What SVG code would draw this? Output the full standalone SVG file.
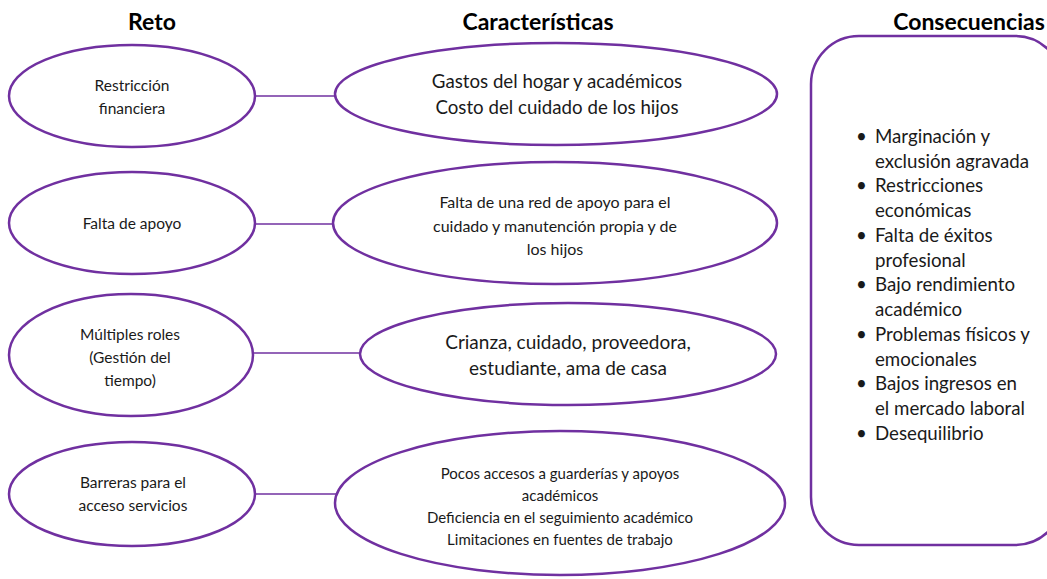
<svg xmlns="http://www.w3.org/2000/svg" width="1047" height="579" viewBox="0 0 1047 579">
<style>
.n{fill:#fff;stroke:#7030A0;stroke-width:2.5}
.c{stroke:#7030A0;stroke-width:1.5;fill:none}
text{font-family:Lato,"Open Sans","Liberation Sans",sans-serif;fill:#1a1a1a}
.h{font-size:23px;font-weight:bold;text-anchor:middle;fill:#000}
.t{text-anchor:middle}
.r{font-size:15.5px}
.l{font-size:18.7px}
</style>
<rect width="1047" height="579" fill="#fff"/>
<g id="headers">
<text class="h" x="152" y="30">Reto</text>
<text class="h" x="538" y="30">Características</text>
<text class="h" x="969" y="30">Consecuencias</text>
</g>
<g id="connectors">
<line class="c" x1="255" y1="96" x2="336" y2="96"/>
<line class="c" x1="255" y1="224" x2="333" y2="224"/>
<line class="c" x1="253" y1="353" x2="362" y2="353"/>
<line class="c" x1="255" y1="494" x2="337" y2="494"/>
</g>
<g id="reto1">
<ellipse class="n" cx="132" cy="96" rx="123" ry="51"/>
<text class="t r" x="132" y="91">Restricción</text>
<text class="t r" x="132" y="114">financiera</text>
</g>
<g id="reto2">
<ellipse class="n" cx="132" cy="223" rx="123" ry="51"/>
<text class="t r" x="132" y="229">Falta de apoyo</text>
</g>
<g id="reto3">
<ellipse class="n" cx="131" cy="355" rx="122" ry="61"/>
<text class="t r" x="130" y="340">Múltiples roles</text>
<text class="t r" x="130" y="363">(Gestión del</text>
<text class="t r" x="130" y="386">tiempo)</text>
</g>
<g id="reto4">
<ellipse class="n" cx="132" cy="494" rx="123" ry="52"/>
<text class="t r" x="133" y="488">Barreras para el</text>
<text class="t r" x="133" y="511">acceso servicios</text>
</g>
<g id="car1">
<ellipse class="n" cx="556" cy="94" rx="221" ry="51"/>
<text class="t" font-size="18.7" x="557" y="88">Gastos del hogar y académicos</text>
<text class="t" font-size="18.7" x="557" y="114">Costo del cuidado de los hijos</text>
</g>
<g id="car2">
<ellipse class="n" cx="555" cy="223" rx="222" ry="61"/>
<text class="t" font-size="16" x="555" y="208">Falta de una red de apoyo para el</text>
<text class="t" font-size="16" x="555" y="232">cuidado y manutención propia y de</text>
<text class="t" font-size="16" x="555" y="255">los hijos</text>
</g>
<g id="car3">
<ellipse class="n" cx="568" cy="354" rx="208" ry="51"/>
<text class="t" font-size="19" x="568" y="349">Crianza, cuidado, proveedora,</text>
<text class="t" font-size="19" x="568" y="375">estudiante, ama de casa</text>
</g>
<g id="car4">
<ellipse class="n" cx="560" cy="503" rx="225" ry="72"/>
<text class="t" font-size="15" x="560" y="479">Pocos accesos a guarderías y apoyos</text>
<text class="t" font-size="15" x="560" y="501">académicos</text>
<text class="t" font-size="15" x="560" y="523">Deficiencia en el seguimiento académico</text>
<text class="t" font-size="15" x="560" y="545">Limitaciones en fuentes de trabajo</text>
</g>
<g id="consecuencias">
<rect class="n" x="811" y="36" width="252" height="509" rx="48" ry="48"/>
<g class="l">
<text x="856" y="143">•</text><text x="875" y="143">Marginación y</text>
<text x="875" y="168">exclusión agravada</text>
<text x="856" y="192">•</text><text x="875" y="192">Restricciones</text>
<text x="875" y="217">económicas</text>
<text x="856" y="242">•</text><text x="875" y="242">Falta de éxitos</text>
<text x="875" y="267">profesional</text>
<text x="856" y="291">•</text><text x="875" y="291">Bajo rendimiento</text>
<text x="875" y="316">académico</text>
<text x="856" y="341">•</text><text x="875" y="341">Problemas físicos y</text>
<text x="875" y="366">emocionales</text>
<text x="856" y="390">•</text><text x="875" y="390">Bajos ingresos en</text>
<text x="875" y="415">el mercado laboral</text>
<text x="856" y="440">•</text><text x="875" y="440">Desequilibrio</text>
</g>
</g>
</svg>
